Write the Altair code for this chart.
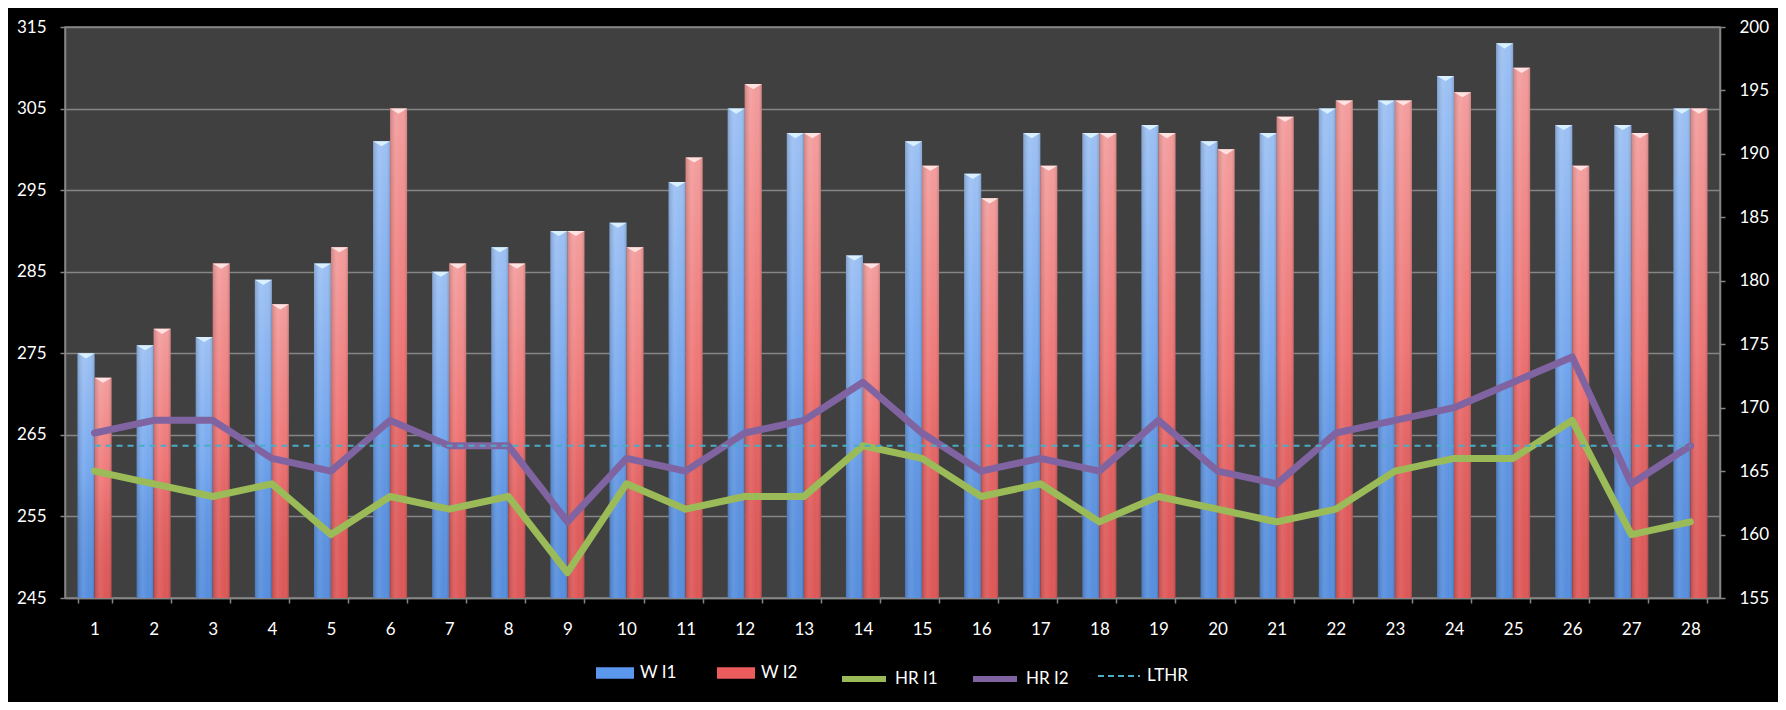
import altair as alt
import pandas as pd

days = list(range(1, 29))
w_i1 = [275, 276, 277, 284, 286, 301, 285, 288, 290, 291, 296, 305, 302, 287,
        301, 297, 302, 302, 303, 301, 302, 305, 306, 309, 313, 303, 303, 305]
w_i2 = [272, 278, 286, 281, 288, 305, 286, 286, 290, 288, 299, 308, 302, 286,
        298, 294, 298, 302, 302, 300, 304, 306, 306, 307, 310, 298, 302, 305]
hr_i1 = [165, 164, 163, 164, 160, 163, 162, 163, 157, 164, 162, 163, 163, 167,
         166, 163, 164, 161, 163, 162, 161, 162, 165, 166, 166, 169, 160, 161]
hr_i2 = [168, 169, 169, 166, 165, 169, 167, 167, 161, 166, 165, 168, 169, 172,
         168, 165, 166, 165, 169, 165, 164, 168, 169, 170, 172, 174, 164, 167]
lthr = [167, 167, 167, 167, 167, 167, 167, 167, 167, 167, 167, 167, 167, 167,
        167, 167, 167, 167, 167, 167, 167, 167, 167, 167, 167, 167, 167, 167]
bar_series = ["W I1", "W I2"]
hr_series = ["HR I1", "HR I2"]
left_ticks = [245, 255, 265, 275, 285, 295, 305, 315]
right_ticks = [155, 160, 165, 170, 175, 180, 185, 190, 195, 200]

bars_df = pd.DataFrame({
    "day": days * 2,
    "series": [bar_series[0]] * len(days) + [bar_series[1]] * len(days),
    "watts": w_i1 + w_i2,
})
hr_df = pd.DataFrame({
    "day": days * 2,
    "series": [hr_series[0]] * len(days) + [hr_series[1]] * len(days),
    "hr": hr_i1 + hr_i2,
})
lthr_df = pd.DataFrame({"day": days, "series": ["LTHR"] * len(days), "hr": lthr})

FONT = "Lato"
GRAY = "#858585"

x_enc = alt.X(
    "day:O",
    scale=alt.Scale(paddingInner=0.425, paddingOuter=0.2125),
    axis=alt.Axis(title=None, labelAngle=0, tickBand="extent", labelPadding=18,
                  tickSize=5, grid=False),
)
xoff = alt.XOffset("series:N", scale=alt.Scale(paddingInner=0, paddingOuter=0))
y_left = alt.Y(
    "watts:Q",
    scale=alt.Scale(domain=[245, 315], zero=False, nice=False),
    axis=alt.Axis(title=None, orient="left", values=left_ticks, grid=True,
                  labelPadding=14, tickSize=5),
)
y_right = alt.Y(
    "hr:Q",
    scale=alt.Scale(domain=[155, 200], zero=False, nice=False),
    axis=alt.Axis(title=None, orient="right", values=right_ticks, grid=False,
                  labelPadding=14, tickSize=5),
)

base_bars = alt.Chart(bars_df).mark_bar().encode(
    x=x_enc,
    xOffset=xoff,
    y=y_left,
    y2=alt.datum(245),
    color=alt.Color(
        "series:N",
        scale=alt.Scale(domain=bar_series, range=["#5b97ec", "#ec5c5c"]),
        legend=alt.Legend(
            title=None, orient="none", legendX=531, legendY=627,
            direction="horizontal", symbolType="M-1,-0.3H1V0.3H-1Z",
            symbolSize=1444, symbolStrokeWidth=0, labelOffset=6,
            columnPadding=40, padding=0,
        ),
    ),
)

vgrad = alt.Gradient(
    gradient="linear", x1=0, y1=0, x2=0, y2=1,
    stops=[
        alt.GradientStop(color="rgba(255,255,255,0.40)", offset=0),
        alt.GradientStop(color="rgba(255,255,255,0.15)", offset=0.5),
        alt.GradientStop(color="rgba(0,0,0,0.06)", offset=1),
    ],
)
hgrad = alt.Gradient(
    gradient="linear", x1=0, y1=0, x2=1, y2=0,
    stops=[
        alt.GradientStop(color="rgba(0,0,0,0.16)", offset=0),
        alt.GradientStop(color="rgba(255,255,255,0.08)", offset=0.35),
        alt.GradientStop(color="rgba(255,255,255,0.0)", offset=0.7),
        alt.GradientStop(color="rgba(0,0,0,0.16)", offset=1),
    ],
)
overlay_v = alt.Chart(bars_df).mark_bar(fill=vgrad).encode(
    x=x_enc, xOffset=xoff, y=y_left, y2=alt.datum(245)
)
overlay_h = alt.Chart(bars_df).mark_bar(fill=hgrad).encode(
    x=x_enc, xOffset=xoff, y=y_left, y2=alt.datum(245)
)
tips = alt.Chart(bars_df).mark_point(
    shape="M-1,0L1,0L0,0.6Z", size=289, filled=True, opacity=1
).encode(
    x=x_enc,
    xOffset=xoff,
    y=y_left,
    fill=alt.Fill("series:N",
                  scale=alt.Scale(domain=bar_series, range=["#d8f0ff", "#ffe2e2"]),
                  legend=None),
)

hr_lines = alt.Chart(hr_df).mark_line(
    strokeWidth=7, strokeJoin="round", strokeCap="round"
).encode(
    x=x_enc,
    y=y_right,
    color=alt.Color(
        "series:N",
        scale=alt.Scale(domain=hr_series, range=["#9bbb59", "#8064a2"]),
        legend=alt.Legend(
            title=None, orient="none", legendX=774, legendY=627,
            direction="horizontal", symbolType="stroke", symbolSize=1936,
            symbolStrokeWidth=6, labelOffset=6, columnPadding=23, padding=0,
        ),
    ),
)
lthr_line = alt.Chart(lthr_df).mark_line(strokeWidth=2, strokeDash=[6, 5]).encode(
    x=x_enc,
    y=y_right,
    color=alt.Color(
        "series:N",
        scale=alt.Scale(domain=["LTHR"], range=["#4bacc6"]),
        legend=alt.Legend(
            title=None, orient="none", legendX=1032, legendY=627,
            direction="horizontal", symbolType="stroke", symbolSize=1764,
            symbolStrokeWidth=2, symbolDash=[6, 4], labelOffset=6, padding=0,
        ),
    ),
)

bars_layer = alt.layer(base_bars, overlay_v, overlay_h, tips)
lines_layer = alt.layer(hr_lines, lthr_line).resolve_scale(color="independent")

chart = (
    alt.layer(bars_layer, lines_layer)
    .resolve_scale(y="independent", color="independent")
    .properties(
        width=1655,
        height=571,
        padding={"left": 57, "top": 19, "right": 58, "bottom": 104},
        autosize=alt.AutoSizeParams(type="none"),
        background="black",
    )
    .configure_view(fill="#404040", stroke=GRAY, strokeWidth=1.5)
    .configure_axis(
        labelColor="white", labelFont=FONT, labelFontSize=17,
        domainColor=GRAY, domainWidth=1.5, tickColor=GRAY, tickWidth=1.5,
        gridColor=GRAY, gridWidth=1.5, gridOpacity=1,
    )
    .configure_legend(labelColor="white", labelFont=FONT, labelFontSize=17)
)

chart.save("out.html", embed_options={"renderer": "svg", "actions": False})
